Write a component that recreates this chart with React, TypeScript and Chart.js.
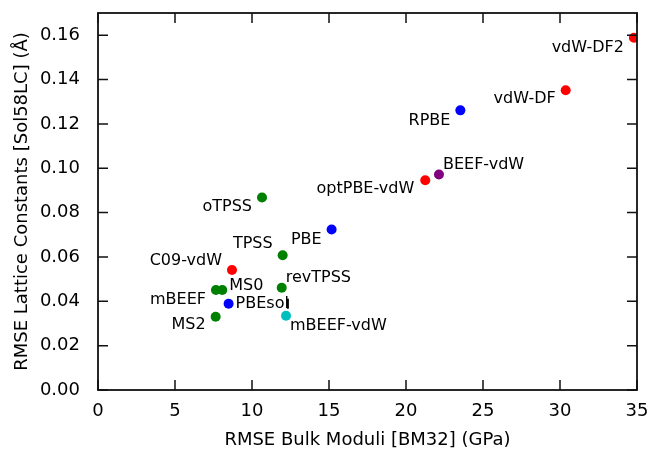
import React, { useEffect, useRef } from "react";
import { Chart, registerables } from "chart.js";

Chart.register(...registerables);

const functionals = ["vdW-DF2", "vdW-DF", "RPBE", "BEEF-vdW", "optPBE-vdW", "oTPSS", "PBE", "TPSS", "C09-vdW", "mBEEF", "MS0", "revTPSS", "PBEsol", "MS2", "mBEEF-vdW"];
const bulkModuliRmse = [34.8, 30.37, 23.53, 22.14, 21.25, 10.65, 15.17, 11.99, 8.7, 7.66, 8.07, 11.93, 8.48, 7.64, 12.21];
const latticeConstRmse = [0.1588, 0.1352, 0.1261, 0.0972, 0.0946, 0.0868, 0.0724, 0.0608, 0.0541, 0.0451, 0.0451, 0.0461, 0.0389, 0.033, 0.0335];
const families = ["vdw", "vdw", "gga", "beef", "vdw", "meta", "gga", "meta", "vdw", "meta", "meta", "meta", "gga", "meta", "mbeefvdw"];

const xTickValues = [0, 5, 10, 15, 20, 25, 30, 35];
const yTickValues = [0, 0.02, 0.04, 0.06, 0.08, 0.1, 0.12, 0.14, 0.16];

// annotation layout (pixel offsets of the label from its point)
const labelAlign = ["right", "right", "right", "left", "right", "right", "right", "right", "right", "right", "left", "left", "left", "right", "left"];
const labelDx = [-10, -10, -10, 4, -11, -10, -10, -10, -10, -10, 7, 4, 7, -10, 4];
const labelDy = [10, 9, 10, -10, 9, 9, 10, -11, -9, 10, -4, -10, 0, 8, 10];

const familyColors: Record<string, string> = {
  vdw: "#ff0000",
  gga: "#0000ff",
  meta: "#008000",
  beef: "#800080",
  mbeefvdw: "#00bfbf",
};

const FONT = "DejaVu Sans";

const framePlugin = {
  id: "framePlugin",
  afterDatasetsDraw(chart: any) {
    const { ctx, chartArea } = chart;
    const xs = chart.scales.x;
    const ys = chart.scales.y;
    ctx.save();
    // labels
    ctx.font = `16px "${FONT}"`;
    ctx.fillStyle = "#000";
    ctx.textBaseline = "middle";
    functionals.forEach((name, i) => {
      const px = xs.getPixelForValue(bulkModuliRmse[i]);
      const py = ys.getPixelForValue(latticeConstRmse[i]);
      ctx.textAlign = labelAlign[i];
      const tx = px + labelDx[i];
      const ty = py + labelDy[i];
      ctx.fillText(name, tx, ty);
      if (name === "PBEsol") {
        const w = ctx.measureText(name).width;
        ctx.strokeStyle = "#000";
        ctx.lineWidth = 2;
        ctx.beginPath();
        ctx.moveTo(tx + w - 1, ty - 5);
        ctx.lineTo(tx + w - 1, ty + 5);
        ctx.stroke();
      }
    });
    // frame
    ctx.strokeStyle = "#111";
    ctx.lineWidth = 1.8;
    ctx.strokeRect(chartArea.left, chartArea.top, chartArea.right - chartArea.left, chartArea.bottom - chartArea.top);
    const tl = 10;
    ctx.lineWidth = 1.5;
    ctx.beginPath();
    xTickValues.forEach((v) => {
      const x = xs.getPixelForValue(v);
      ctx.moveTo(x, chartArea.bottom);
      ctx.lineTo(x, chartArea.bottom - tl);
      ctx.moveTo(x, chartArea.top);
      ctx.lineTo(x, chartArea.top + tl);
    });
    yTickValues.forEach((v) => {
      const y = ys.getPixelForValue(v);
      ctx.moveTo(chartArea.left, y);
      ctx.lineTo(chartArea.left + tl, y);
      ctx.moveTo(chartArea.right, y);
      ctx.lineTo(chartArea.right - tl, y);
    });
    ctx.stroke();
    ctx.restore();
  },
};

export default function App() {
  const ref = useRef<HTMLCanvasElement | null>(null);
  useEffect(() => {
    if (!ref.current) return;
    const chart = new Chart(ref.current, {
      type: "scatter",
      data: {
        datasets: [
          {
            label: "RMSE",
            data: bulkModuliRmse.map((x, i) => ({ x, y: latticeConstRmse[i] })),
            pointBackgroundColor: families.map((f) => familyColors[f]),
            pointBorderWidth: 0,
            pointRadius: 5,
            clip: 0,
          } as any,
        ],
      },
      options: {
        animation: false,
        responsive: false,
        events: [],
        layout: { autoPadding: false, padding: { top: 13, right: 14, left: 0, bottom: 0 } },
        plugins: { legend: { display: false }, tooltip: { enabled: false } },
        scales: {
          x: {
            type: "linear",
            min: 0,
            max: 35,
            afterFit: (s: any) => { s.height = 61; s.paddingLeft = 0; s.paddingRight = 0; },
            grid: { display: false },
            border: { display: false },
            ticks: {
              stepSize: 5,
              includeBounds: false,
              padding: 3,
              color: "#000",
              font: { family: FONT, size: 18 },
              maxRotation: 0,
            },
            title: {
              display: true,
              text: "RMSE Bulk Moduli [BM32] (GPa)",
              color: "#000",
              font: { family: FONT, size: 18 },
              padding: { top: 0, bottom: 0 },
            },
          },
          y: {
            type: "linear",
            min: 0,
            max: 0.17,
            afterFit: (s: any) => { s.width = 98; s.paddingTop = 0; s.paddingBottom = 0; },
            grid: { display: false },
            border: { display: false },
            ticks: {
              stepSize: 0.02,
              includeBounds: false,
              padding: 10,
              color: "#000",
              font: { family: FONT, size: 18 },
              callback: (v: any) => Number(v).toFixed(2),
            },
            title: {
              display: true,
              text: "RMSE Lattice Constants [Sol58LC] (Å)",
              color: "#000",
              font: { family: FONT, size: 18 },
              padding: { top: 12, bottom: 0 },
            },
          },
        },
      },
      plugins: [framePlugin],
    } as any);
    return () => chart.destroy();
  }, []);
  return (
    <div style={{ position: "fixed", left: 0, top: 0, width: 651, height: 451, background: "#fff" }}>
      <canvas ref={ref} width={651} height={451} style={{ display: "block" }} />
    </div>
  );
}
